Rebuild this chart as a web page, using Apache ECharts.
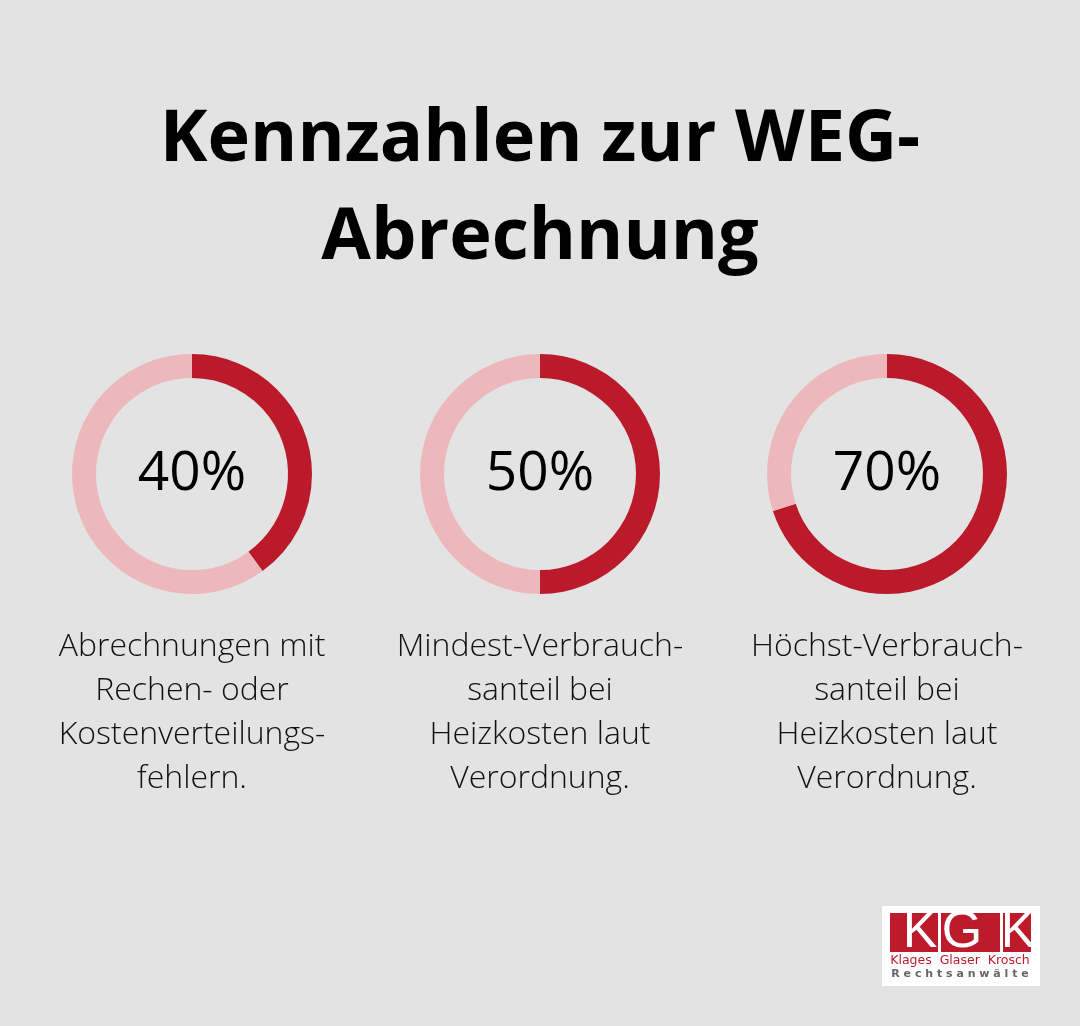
<!DOCTYPE html>
<html>
<head>
<meta charset="utf-8">
<script src="https://cdn.jsdelivr.net/npm/echarts@6/dist/echarts.min.js"></script>
<style>
html,body{margin:0;padding:0;background:#e3e3e3;}
#c{width:1080px;height:1026px;}
</style>
</head>
<body>
<div id="c"></div>
<script>
var titleLines = ['Kennzahlen zur WEG-', 'Abrechnung'];
var values = [40, 50, 70];
var labels = [
  'Abrechnungen mit\nRechen- oder\nKostenverteilungs-\nfehlern.',
  'Mindest-Verbrauch-\nsanteil bei\nHeizkosten laut\nVerordnung.',
  'Höchst-Verbrauch-\nsanteil bei\nHeizkosten laut\nVerordnung.'
];
var centersX = [192, 540, 887];
var centerY = 474;

var RED = '#bb1a2b';
var PINK = '#edb8bc';

var series = values.map(function (v, i) {
  return {
    type: 'pie',
    center: [centersX[i], centerY],
    radius: [96, 120],
    startAngle: 90,
    clockwise: true,
    silent: true,
    animation: false,
    label: { show: false },
    labelLine: { show: false },
    data: [
      { value: v, name: 'a' + i, itemStyle: { color: RED },
        label: { show: true, position: 'center', formatter: v + '%',
          fontFamily: 'Open Sans', fontSize: 55, fontWeight: 500, color: '#000' } },
      { value: 100 - v, name: 'b' + i, itemStyle: { color: PINK } }
    ]
  };
});

var graphics = [];
titleLines.forEach(function (t, i) {
  graphics.push({
    type: 'text', left: 'center', top: 104 + i * 98,
    style: { text: t, font: 'bold 72px "Open Sans"', fill: '#000', textAlign: 'center' }
  });
});
labels.forEach(function (t, i) {
  graphics.push({
    type: 'text', x: centersX[i], y: 625,
    style: { text: t, fontFamily: 'Open Sans', fontWeight: 300, fontSize: 32,
      lineHeight: 44, fill: '#111', textAlign: 'center', textVerticalAlign: 'top' }
  });
});

// Logo
var LR = '#bd1b2c';
var logo = { type: 'group', x: 882, y: 906, children: [
  { type: 'rect', shape: { x: 0, y: 0, width: 158, height: 80 }, style: { fill: '#fff' } },
  { type: 'rect', shape: { x: 8, y: 7, width: 48, height: 39 }, style: { fill: LR } },
  { type: 'rect', shape: { x: 59, y: 7, width: 59, height: 39 }, style: { fill: LR } },
  { type: 'rect', shape: { x: 121, y: 7, width: 28, height: 39 }, style: { fill: LR } },
  { type: 'text', x: 38, y: 27, style: { text: 'K', font: '52px "Liberation Sans"', fill: '#fff', textAlign: 'center', textVerticalAlign: 'middle' } },
  { type: 'text', x: 80, y: 27, style: { text: 'G', font: '52px "Liberation Sans"', fill: '#fff', textAlign: 'center', textVerticalAlign: 'middle' } },
  { type: 'text', x: 136, y: 27, style: { text: 'K', font: '52px "Liberation Sans"', fill: '#fff', textAlign: 'center', textVerticalAlign: 'middle' } },
  { type: 'text', x: 78, y: 55, style: { text: 'Klages  Glaser  Krosch', font: '12.5px "DejaVu Sans"', fill: LR, textAlign: 'center', textVerticalAlign: 'middle' } },
  { type: 'text', x: 78, y: 68, style: { text: 'R e c h t s a n w ä l t e', font: 'bold 11px "DejaVu Sans"', fill: '#666', textAlign: 'center', textVerticalAlign: 'middle' } }
]};
graphics.push(logo);

var chart = echarts.init(document.getElementById('c'), null, { renderer: 'canvas' });
chart.setOption({
  backgroundColor: '#e3e3e3',
  animation: false,
  series: series,
  graphic: graphics
});
</script>
</body>
</html>
